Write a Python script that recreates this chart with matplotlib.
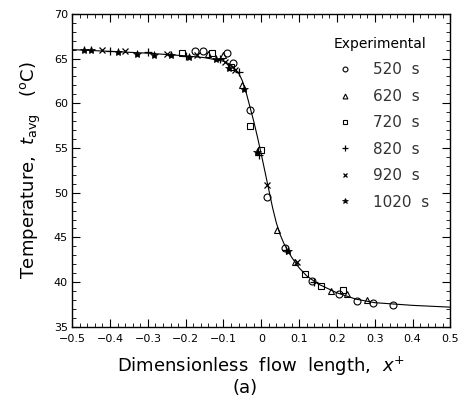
import numpy as np
import matplotlib.pyplot as plt
from matplotlib.ticker import MultipleLocator

# krzywa modelu
curve_x = [-0.5, -0.4, -0.3, -0.2, -0.15, -0.1, -0.08, -0.06, -0.05, -0.04, -0.03, -0.02, -0.01,
           0.0, 0.01, 0.02, 0.03, 0.04, 0.05, 0.06, 0.08, 0.1, 0.12, 0.15, 0.2, 0.25, 0.3, 0.4, 0.5]
curve_y = [66.0, 65.8, 65.6, 65.3, 65.1, 64.7, 64.3, 63.4, 62.5, 61.2, 59.6, 58.0, 56.2,
           54.3, 52.3, 50.3, 48.3, 46.6, 45.3, 44.3, 42.8, 41.6, 40.7, 39.8, 38.8, 38.1, 37.7, 37.4, 37.2]

# dane eksperymentalne
x520 = [-0.175, -0.155, -0.09, -0.075, -0.03, 0.016, 0.063, 0.135, 0.206, 0.253, 0.295, 0.348]
y520 = [65.8, 65.9, 65.6, 64.5, 59.3, 49.5, 43.8, 40.1, 38.7, 37.9, 37.7, 37.4]

x620 = [-0.14, -0.10, -0.05, 0.042, 0.09, 0.185, 0.227, 0.28]
y620 = [65.5, 65.4, 62.0, 45.8, 42.2, 39.0, 38.7, 38.0]

x720 = [-0.21, -0.13, -0.08, -0.029, 0.0, 0.115, 0.158, 0.215]
y720 = [65.6, 65.6, 64.0, 57.5, 54.8, 40.9, 39.6, 39.1]

x820 = [-0.40, -0.30, -0.20, -0.11, -0.06, -0.005, 0.065, 0.14]
y820 = [65.9, 65.7, 65.3, 64.9, 63.5, 54.2, 43.6, 40.0]

x920 = [-0.42, -0.36, -0.25, -0.17, -0.095, -0.07, 0.016, 0.095]
y920 = [66.0, 65.8, 65.5, 65.4, 64.6, 63.7, 50.9, 42.3]

x1020 = [-0.47, -0.45, -0.38, -0.33, -0.285, -0.24, -0.19, -0.12, -0.085, -0.045, -0.01, 0.07]
y1020 = [66.0, 66.0, 65.7, 65.5, 65.4, 65.4, 65.2, 64.9, 63.9, 61.6, 54.5, 43.5]

xticks = [-0.5, -0.4, -0.3, -0.2, -0.1, 0, 0.1, 0.2, 0.3, 0.4, 0.5]
xlabels = ['\u22120.5', '\u22120.4', '\u22120.3', '\u22120.2', '\u22120.1', '0',
           '0.1', '0.2', '0.3', '0.4', '0.5']
yticks = [35, 40, 45, 50, 55, 60, 65, 70]

fig = plt.figure(figsize=(4.6, 4.07), dpi=100)
ax = fig.add_axes([0.157, 0.197, 0.822, 0.769])

ax.plot(curve_x, curve_y, color='black', lw=0.8)

ms = 5
ax.plot(x520, y520, 'o', mfc='none', mec='black', ms=ms, mew=0.8, label='520  s')
ax.plot(x620, y620, '^', mfc='none', mec='black', ms=ms, mew=0.8, label='620  s')
ax.plot(x720, y720, 's', mfc='none', mec='black', ms=ms, mew=0.8, label='720  s')
ax.plot(x820, y820, '+', color='black', ms=ms + 1, mew=0.9, label='820  s')
ax.plot(x920, y920, 'x', color='black', ms=ms, mew=0.9, label='920  s')
ax.plot(x1020, y1020, '*', color='black', ms=ms + 1, mew=0.5, label='1020  s')

ax.set_xlim(-0.5, 0.5)
ax.set_ylim(35, 70)
ax.set_xticks(xticks)
ax.set_xticklabels(xlabels)
ax.set_yticks(yticks)
ax.xaxis.set_minor_locator(MultipleLocator(0.02))
ax.yaxis.set_minor_locator(MultipleLocator(1))
ax.tick_params(which='both', direction='in', top=True, right=True, labelsize=8)
ax.tick_params(axis='x', pad=5)
ax.tick_params(axis='y', pad=3)
ax.tick_params(which='major', length=6)
ax.tick_params(which='minor', length=3)
for s in ax.spines.values():
    s.set_linewidth(1.0)

ax.set_xlabel('Dimensionless  flow  length,  $x^{+}$', fontsize=13, labelpad=8)
ax.set_ylabel(r'Temperature,  $t_{\mathrm{avg}}$   ($^{\mathrm{o}}$C)', fontsize=13, labelpad=8)
fig.text(0.533, 0.035, '(a)', fontsize=13, ha='center')

leg = ax.legend(title='Experimental', frameon=False, loc='upper right',
                bbox_to_anchor=(0.98, 0.97), fontsize=11, title_fontsize=10,
                labelspacing=0.75, handletextpad=0.8, markerscale=0.7)
for t in leg.get_texts():
    t.set_color('#333333')

plt.savefig('out.png', dpi=100)
